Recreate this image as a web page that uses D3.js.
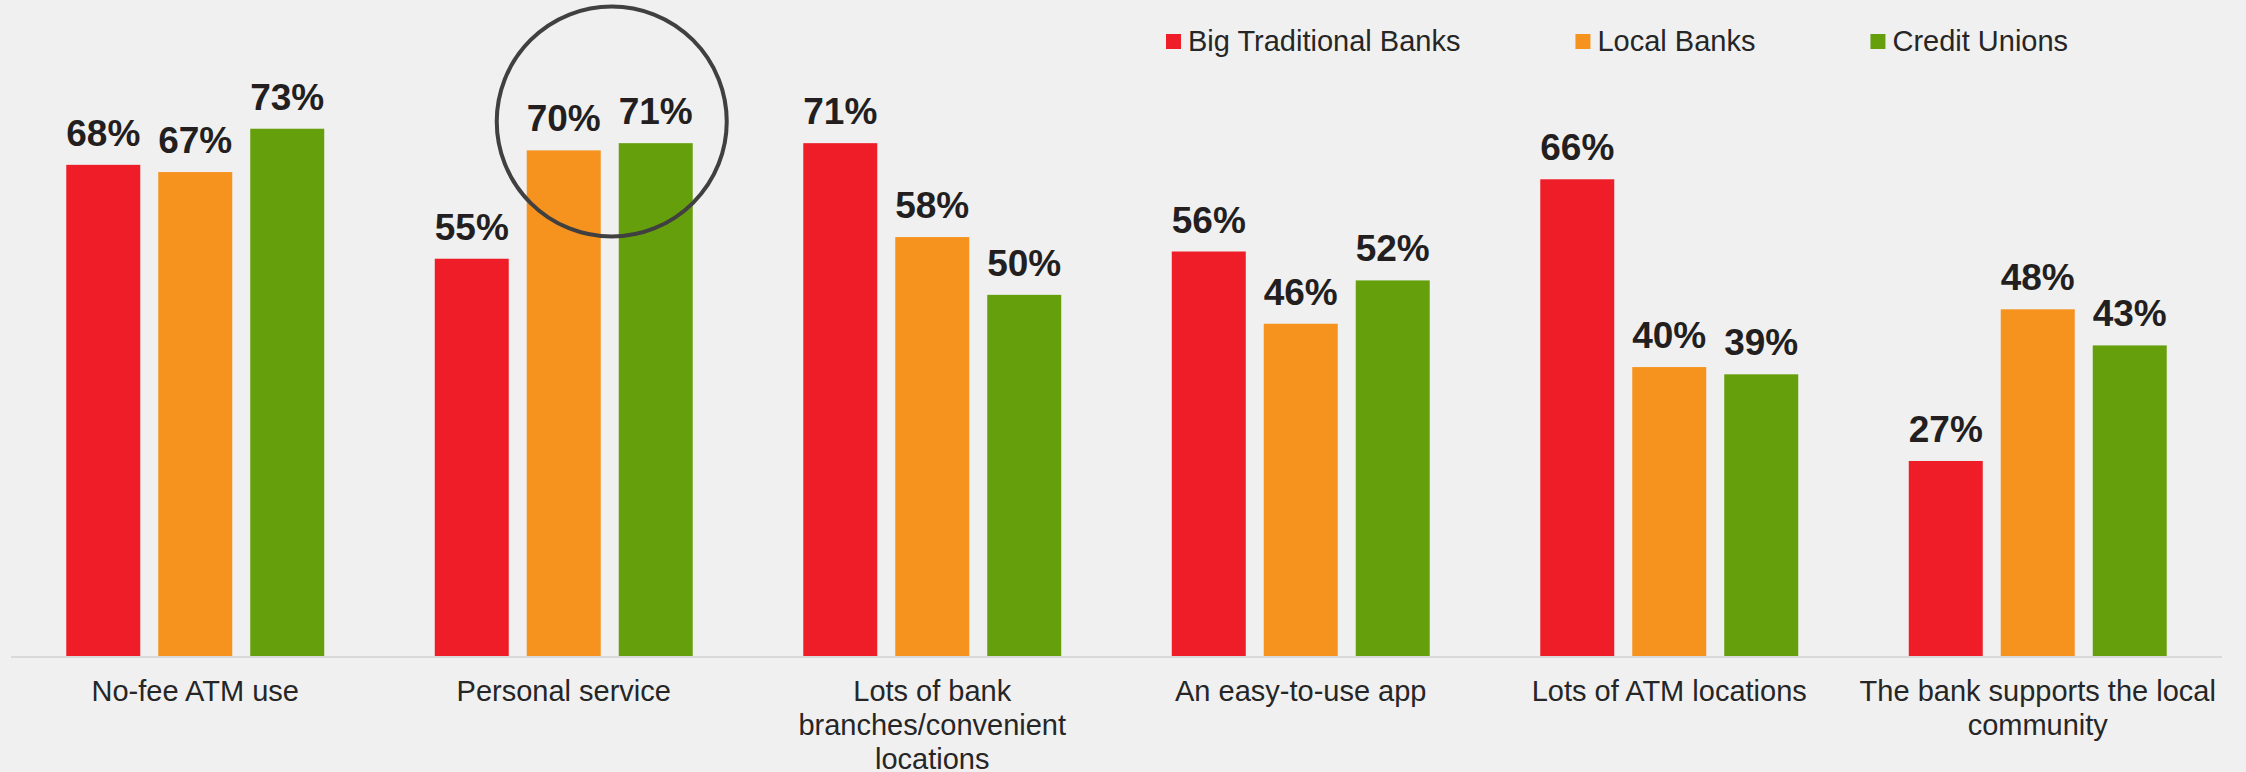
<!DOCTYPE html>
<html>
<head>
<meta charset="utf-8">
<script src="https://cdn.jsdelivr.net/npm/d3@7"></script>
<style>
  html, body { margin: 0; padding: 0; background: #f0f0f0; }
  svg { display: block; }
  text { font-family: "Liberation Sans", Arial, Helvetica, sans-serif; }
</style>
</head>
<body>
<svg id="chart" width="2246" height="772"></svg>
<script>
// Share of respondents naming each feature, by institution type
const categories = [
  ["No-fee ATM use"],
  ["Personal service"],
  ["Lots of bank", "branches/convenient", "locations"],
  ["An easy-to-use app"],
  ["Lots of ATM locations"],
  ["The bank supports the local", "community"]
];
const seriesNames = ["Big Traditional Banks", "Local Banks", "Credit Unions"];
const bigBanks      = [68, 55, 71, 56, 66, 27];
const localBanks    = [67, 70, 58, 46, 40, 48];
const creditUnions  = [73, 71, 50, 52, 39, 43];
const seriesColors  = ["#ee1d27", "#f6921e", "#65a00c"];

const W = 2246, H = 772;
const baseY = 656;
const svg = d3.select("#chart");

svg.append("rect").attr("width", W).attr("height", H).attr("fill", "#f0f0f0");

const catKeys = categories.map(c => c.join(" "));
const values = [bigBanks, localBanks, creditUnions];

const x0 = d3.scaleBand()
  .domain(catKeys)
  .range([11, 2222])
  .paddingInner(0.3)
  .paddingOuter(0.15);

const x1 = d3.scaleBand()
  .domain(seriesNames)
  .range([0, x0.bandwidth()])
  .paddingInner(0.1957)
  .paddingOuter(0);

const y = d3.scaleLinear().domain([0, 100]).range([baseY, baseY - 722.3]);

// baseline
svg.append("line")
  .attr("x1", 11).attr("x2", 2222)
  .attr("y1", baseY + 1).attr("y2", baseY + 1)
  .attr("stroke", "#d9d9d9").attr("stroke-width", 2);

// bars and value labels
const rows = [];
catKeys.forEach((c, i) => {
  seriesNames.forEach((s, j) => rows.push({ cat: c, series: s, j, v: values[j][i] }));
});

const g = svg.append("g");
g.selectAll("rect.bar").data(rows).join("rect")
  .attr("class", "bar")
  .attr("x", d => x0(d.cat) + x1(d.series))
  .attr("y", d => y(d.v))
  .attr("width", x1.bandwidth())
  .attr("height", d => baseY - y(d.v))
  .attr("fill", d => seriesColors[d.j]);

g.selectAll("text.val").data(rows).join("text")
  .attr("class", "val")
  .attr("x", d => x0(d.cat) + x1(d.series) + x1.bandwidth() / 2)
  .attr("y", d => y(d.v) - 19)
  .attr("text-anchor", "middle")
  .attr("font-size", 37)
  .attr("font-weight", "bold")
  .attr("fill", "#231f20")
  .text(d => d.v + "%");

// category labels
const labels = svg.append("g");
categories.forEach((lines, i) => {
  const t = labels.append("text")
    .attr("x", x0(catKeys[i]) + x0.bandwidth() / 2)
    .attr("y", 701)
    .attr("text-anchor", "middle")
    .attr("font-size", 29)
    .attr("fill", "#262626");
  lines.forEach((ln, k) => {
    t.append("tspan")
      .attr("x", x0(catKeys[i]) + x0.bandwidth() / 2)
      .attr("dy", k === 0 ? 0 : 33.8)
      .text(ln);
  });
});

// highlight ring around the Local Banks / Credit Unions pair for personal service
const hlCat = catKeys[1];
const ringX = x0(hlCat) + (x1(seriesNames[1]) + x1.bandwidth() + x1(seriesNames[2])) / 2 + 2;
const ringY = y(74);
svg.append("circle")
  .attr("cx", ringX).attr("cy", ringY).attr("r", 115)
  .attr("fill", "none")
  .attr("stroke", "#404040")
  .attr("stroke-width", 4);

// legend
const legend = svg.append("g");
let lx = 1166;
seriesNames.forEach((s, j) => {
  legend.append("rect")
    .attr("x", lx).attr("y", 34).attr("width", 15).attr("height", 15)
    .attr("fill", seriesColors[j]);
  const t = legend.append("text")
    .attr("x", lx + 22).attr("y", 51)
    .attr("font-size", 29)
    .attr("fill", "#262626")
    .text(s);
  lx = lx + 22 + t.node().getComputedTextLength() + 115;
});
</script>
</body>
</html>
